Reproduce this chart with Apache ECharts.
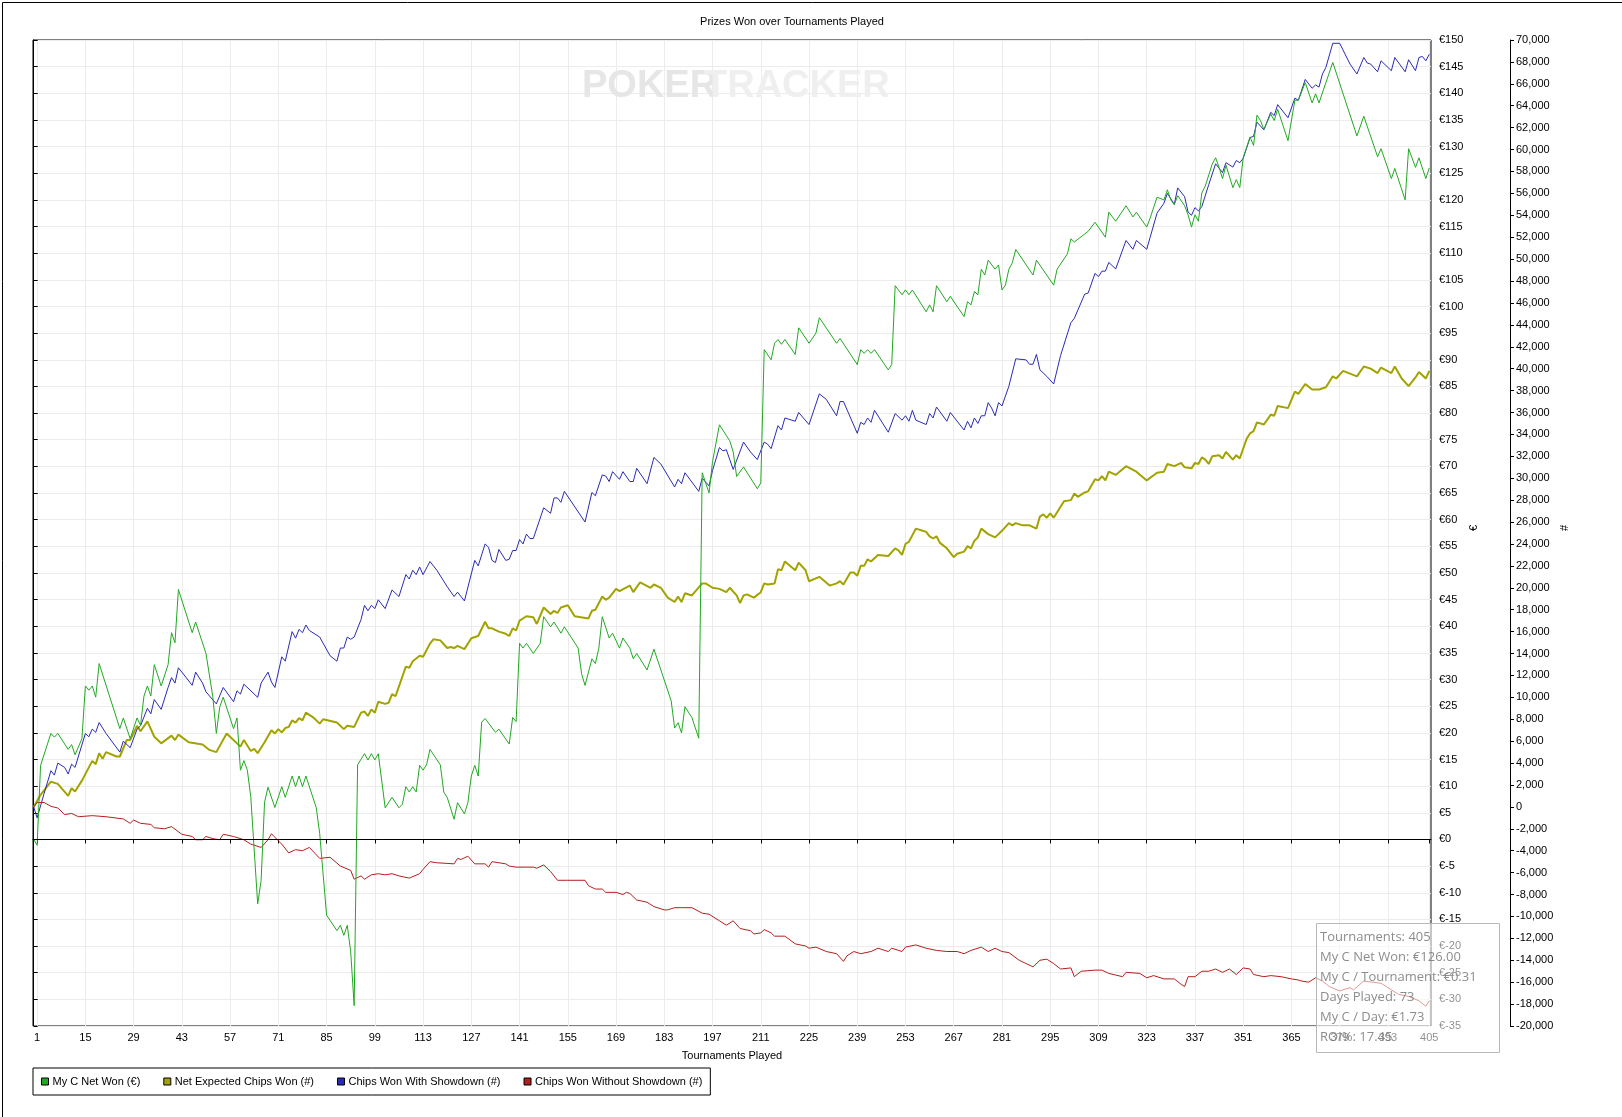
<!DOCTYPE html>
<html>
<head>
<meta charset="utf-8">
<script src="https://cdn.jsdelivr.net/npm/echarts@6/dist/echarts.min.js"></script>
<style>
html,body{margin:0;padding:0;background:#fff;}
#chart{width:1622px;height:1117px;}
</style>
</head>
<body>
<div id="chart"></div>
<script>
// ---- DATA ----
const titleText = 'Prizes Won over Tournaments Played';
const seriesNames = ['My C Net Won (€)', 'Net Expected Chips Won (#)', 'Chips Won With Showdown (#)', 'Chips Won Without Showdown (#)'];
const xTicks = [1,15,29,43,57,71,85,99,113,127,141,155,169,183,197,211,225,239,253,267,281,295,309,323,337,351,365,379,393,405];

// [tournament, €]
const netWonEUR = [[0,0],[1,-1.1],[2,13.9],[5,19.9],[6,19.2],[7,19.9],[10,16.9],[11,17.8],[12,15.9],[14,18.9],[15,28.8],[16,28],[17,28.8],[18,26.7],[19,33],[25,20.8],[26,22.8],[28,18.9],[30,22.8],[31,21.4],[32,26.9],[33,28.8],[34,26.9],[35,32.8],[37,28.8],[39,32.8],[40,38.8],[41,36.9],[42,46.9],[46,38.8],[47,40.8],[50,34.9],[52,26.7],[53,19.9],[54,24.9],[55,26.7],[58,20.8],[59,22.8],[60,13],[61,14.8],[62,13],[63,8],[65,-12.1],[66,-7.7],[67,7],[68,9.8],[70,6],[72,9.9],[73,7.9],[75,11.9],[76,9.9],[77,11.9],[78,9.9],[79,11.9],[82,5.95],[83,1.1],[85,-14.2],[88,-17.1],[89,-16.1],[90,-18],[91,-16.1],[92,-21.1],[93,-31.2],[94,14],[96,16.1],[97,14.9],[98,16.1],[99,14.9],[100,16.1],[102,5.95],[104,7.9],[106,5.95],[107,6.6],[108,9.9],[109,8.9],[110,9.9],[111,8.9],[112,13.9],[113,13],[114,14],[115,16.9],[118,14],[119,8.9],[120,7.9],[122,3.8],[123,6.9],[125,4.8],[126,6.9],[127,11.9],[128,13.9],[129,11.9],[130,22],[131,22.7],[134,20.1],[135,20.7],[138,17.9],[139,22.9],[140,22.1],[141,36.8],[142,35.9],[143,36.8],[145,34.9],[147,36.8],[148,41.8],[150,39.9],[151,40.8],[153,38.7],[154,39.9],[158,35.9],[159,31.1],[160,28.9],[162,33.9],[163,33],[164,35.9],[165,41.8],[167,37.8],[168,38.7],[170,35.9],[171,37.8],[173,35.9],[174,33.9],[175,34.9],[178,31.8],[180,35.7],[185,26],[186,20.9],[187,21.9],[188,20],[189,24.9],[191,22.9],[193,19],[194,68.8],[196,65],[197,70.9],[199,77.8],[202,74.8],[203,72.7],[204,68.1],[206,69.9],[210,65.8],[211,66.9],[212,91.9],[214,90],[215,93.1],[216,93.8],[217,92.9],[218,93.8],[221,91],[222,96],[225,93.1],[227,95],[228,97.9],[233,93.1],[234,94],[239,89.1],[240,91.9],[241,91.2],[242,91.9],[243,91.2],[244,91.9],[248,88.1],[249,89.1],[250,103.9],[252,102.2],[253,103.1],[254,102.2],[255,103.1],[259,99],[260,100.3],[261,99],[262,103.9],[265,100.9],[266,101.9],[270,98.1],[271,100.9],[272,100.3],[273,102.8],[274,102.2],[275,107],[276,105.9],[277,108.7],[279,107],[280,107.8],[281,103.1],[282,104],[283,107],[284,108.2],[285,110.7],[290,105.9],[291,108.7],[296,104],[297,107],[300,109.9],[301,112.7],[302,112.1],[306,114.1],[308,115.8],[311,113],[312,117.7],[314,116],[317,118.9],[319,116.8],[320,117.7],[323,114.9],[324,116.6],[326,120.5],[328,120],[329,121.9],[330,120],[331,119.1],[332,120.8],[334,118.9],[335,117.2],[336,114.9],[337,117.2],[338,116],[339,121.3],[340,122.6],[342,126.7],[343,127.9],[344,126.1],[345,124],[346,126.5],[348,122.3],[349,123.8],[350,122.3],[351,127.9],[353,131.8],[354,130.2],[355,135.9],[356,134.9],[357,133.2],[359,136.1],[360,134.9],[361,137],[364,131.1],[366,138.7],[367,138.7],[369,142],[371,138.2],[372,139.9],[373,138.2],[377,145.8],[384,132],[386,135.7],[390,128.1],[391,129.6],[394,124],[395,125.9],[398,120],[399,129.6],[401,126.1],[402,127.9],[404,124],[405,126]];

// [tournament, chips]
const netExpectedChips = [[0,0],[2,1100],[5,2300],[7,2100],[10,1000],[11,1700],[12,1400],[14,2400],[17,4200],[18,3900],[19,4900],[20,4400],[21,5000],[24,4600],[25,4600],[27,6100],[28,6100],[30,7400],[31,6900],[33,7800],[35,6400],[37,5800],[40,6500],[41,6100],[42,6600],[45,5900],[49,5700],[51,5200],[53,5000],[56,6700],[60,5500],[61,6100],[63,5100],[64,5300],[65,4900],[67,5900],[69,7000],[70,6700],[71,7100],[72,6800],[73,7200],[74,7300],[75,7900],[76,7700],[77,8100],[78,7900],[79,8600],[81,8200],[83,7600],[84,8000],[88,7700],[90,7100],[91,7400],[93,7300],[95,8600],[96,8700],[97,8300],[98,8900],[99,8600],[100,9600],[102,9400],[103,9500],[104,10300],[105,10100],[108,12800],[109,12700],[110,13300],[112,13800],[113,13700],[115,14900],[116,15300],[118,15200],[120,14500],[121,14600],[122,14500],[123,14700],[125,14400],[127,15400],[129,15600],[131,16900],[132,16300],[133,16300],[135,16000],[137,15800],[138,15600],[139,16300],[140,16100],[141,17000],[143,17400],[145,17300],[146,16700],[148,18200],[150,17600],[151,17900],[152,17700],[153,18200],[155,18400],[157,17400],[161,17200],[162,17900],[163,18000],[165,19200],[166,18900],[167,19100],[169,19900],[170,19700],[173,20200],[174,19600],[176,20500],[179,20000],[180,20300],[182,20000],[184,19100],[186,18700],[187,19200],[188,18700],[189,19500],[191,19300],[194,20400],[195,20400],[197,20000],[199,19900],[201,19600],[202,20000],[204,19300],[205,18600],[206,19300],[207,19400],[209,19100],[211,19600],[212,20400],[213,20300],[215,20400],[216,21700],[217,21600],[218,22400],[221,21600],[222,22300],[224,21600],[225,20600],[228,21000],[231,20200],[233,20400],[234,20600],[235,20300],[237,21400],[238,21400],[239,21100],[240,22000],[241,22000],[242,22600],[243,22400],[245,23000],[248,22900],[250,23600],[251,23400],[252,23000],[253,24000],[254,24200],[256,25400],[258,25200],[259,25100],[260,24700],[261,24500],[262,24700],[263,24100],[265,23600],[267,22800],[268,23100],[270,23300],[271,23800],[272,23600],[273,24300],[274,24600],[275,25400],[277,24900],[279,24600],[281,25200],[283,25900],[284,25700],[285,25900],[287,25700],[289,25700],[291,25400],[292,26500],[293,26700],[294,26400],[295,26800],[296,26400],[299,27900],[301,28000],[302,28600],[303,28300],[305,28700],[306,28800],[308,29900],[309,29800],[310,30200],[311,29800],[312,30600],[314,30300],[317,31100],[320,30600],[323,29800],[326,30500],[328,30600],[329,31300],[331,31100],[333,31400],[334,31000],[336,30900],[337,31400],[338,31300],[339,31900],[340,31700],[341,31300],[342,32000],[344,32100],[345,31800],[346,32400],[348,31700],[349,32100],[350,31800],[352,33600],[353,34100],[354,34300],[355,35100],[357,34900],[359,35800],[360,35700],[361,36600],[364,36400],[366,37900],[367,37700],[369,38600],[371,38100],[373,38100],[375,38300],[377,39300],[378,39100],[380,39800],[384,39300],[386,40200],[388,40000],[390,39600],[391,40100],[394,39600],[395,40200],[397,39100],[399,38400],[401,39200],[402,39700],[404,39100],[405,39800]];

const chipsWithShowdown = [[0,0],[1,-1000],[3,1200],[5,3300],[6,2900],[7,4000],[9,3600],[10,3000],[11,3900],[12,3600],[15,6700],[16,6400],[17,7100],[18,6800],[19,7700],[21,6700],[25,5000],[26,6000],[28,5400],[30,7100],[31,7400],[33,9000],[34,8500],[35,9800],[37,8900],[39,10900],[40,11800],[41,11300],[42,12700],[46,11100],[47,12300],[49,11300],[50,10500],[53,9400],[55,10900],[58,9600],[59,10600],[60,10300],[61,11200],[65,10000],[66,11300],[68,12300],[69,11400],[70,10900],[72,13700],[73,13300],[75,16000],[76,15400],[77,16200],[78,15900],[79,16600],[80,16100],[83,15500],[86,13800],[88,13300],[89,14500],[90,14500],[91,15500],[92,15300],[93,15500],[95,17100],[96,18400],[97,17900],[98,18400],[99,18100],[100,18900],[102,18100],[104,19800],[106,19200],[108,21200],[109,20800],[110,21600],[111,21200],[112,21900],[113,21200],[115,22400],[117,21600],[120,20100],[122,19200],[123,19600],[125,18800],[128,22500],[129,22000],[131,24000],[132,23700],[133,22500],[134,22300],[135,23500],[137,22500],[138,22600],[139,23400],[140,23400],[141,24400],[142,24000],[143,24900],[144,24500],[145,24500],[148,27300],[150,26800],[151,28200],[152,28200],[153,27800],[154,28800],[160,26000],[162,28700],[163,28400],[165,30300],[166,30200],[167,29700],[168,30600],[170,29900],[171,30600],[173,29700],[174,29700],[175,30900],[178,29500],[180,31900],[182,31300],[186,29200],[187,29900],[188,29500],[189,30500],[193,28800],[194,30000],[196,29300],[197,30700],[199,32800],[200,32500],[201,32600],[203,30800],[206,33300],[208,32400],[210,31700],[212,33300],[213,33100],[214,32700],[216,34800],[217,34400],[218,35500],[221,35200],[222,36000],[225,34900],[228,37700],[230,37200],[233,35700],[234,37000],[235,37000],[239,34100],[240,35100],[241,34900],[242,35500],[243,35100],[244,36200],[248,34200],[250,35900],[252,35300],[253,35700],[254,35200],[255,36200],[256,35300],[259,34900],[260,35900],[261,35500],[262,36500],[265,35200],[266,36000],[270,34400],[271,35200],[272,34600],[273,35500],[274,35000],[275,35700],[276,35700],[277,36900],[278,36400],[279,35700],[280,36900],[281,36600],[283,38400],[285,40900],[288,40800],[289,40400],[290,40400],[291,41300],[292,39900],[294,39300],[296,38600],[298,41200],[301,44200],[302,44600],[305,46800],[306,46900],[308,48700],[309,48400],[310,48900],[311,48900],[312,49700],[314,49100],[317,51700],[319,50900],[320,51700],[323,50900],[324,52000],[326,54200],[328,55100],[329,56000],[331,55000],[332,56500],[334,55700],[335,54300],[336,54000],[337,54700],[338,54400],[339,54800],[341,56800],[343,58700],[345,57900],[346,58800],[348,58400],[349,59000],[350,58800],[351,59200],[353,61100],[354,61200],[355,62500],[357,61800],[359,63400],[360,63100],[361,64100],[364,62900],[366,64700],[367,64500],[369,66400],[371,65600],[372,65900],[373,65700],[374,66900],[375,67500],[377,69700],[379,69700],[382,67800],[384,66900],[386,68400],[387,67900],[388,67800],[390,67100],[391,68100],[394,67200],[395,68400],[398,67100],[399,68200],[401,67200],[402,68400],[403,68500],[404,68100],[405,68700]];

const chipsWithoutShowdown = [[0,0],[1,400],[3,400],[5,50],[7,-100],[9,-700],[11,-600],[13,-900],[17,-800],[21,-900],[26,-1100],[28,-1500],[29,-1200],[31,-1500],[34,-1600],[35,-1900],[38,-2000],[40,-1800],[43,-2500],[46,-2700],[47,-3000],[49,-3000],[50,-2700],[52,-2900],[54,-3000],[55,-2500],[58,-2700],[61,-3000],[63,-3400],[66,-3700],[68,-3000],[69,-2450],[71,-3100],[72,-3400],[74,-4200],[76,-3900],[78,-4000],[80,-3700],[83,-4700],[86,-4600],[89,-5400],[92,-5800],[93,-6600],[95,-6300],[96,-6600],[98,-6200],[100,-6100],[102,-6200],[104,-6100],[106,-6300],[109,-6500],[112,-6100],[113,-5700],[115,-5000],[117,-5100],[122,-5200],[123,-4700],[124,-4800],[126,-4500],[128,-5200],[131,-5200],[132,-5500],[133,-5000],[137,-5200],[138,-5400],[140,-5500],[143,-5500],[145,-5500],[146,-5600],[148,-5300],[150,-5900],[152,-6700],[155,-6700],[160,-6700],[161,-7200],[163,-7500],[165,-7500],[166,-7800],[169,-7800],[171,-8000],[172,-7800],[173,-7900],[175,-8500],[178,-8700],[180,-9100],[183,-9400],[184,-9400],[186,-9200],[188,-9200],[191,-9200],[194,-9700],[196,-9800],[199,-10400],[201,-10800],[203,-10400],[205,-11100],[208,-11300],[209,-11600],[211,-11500],[212,-11200],[214,-11500],[215,-11800],[218,-11800],[221,-12500],[224,-12700],[225,-12900],[227,-12800],[230,-13200],[233,-13400],[235,-14100],[236,-13600],[238,-13200],[240,-13400],[243,-13200],[245,-12900],[248,-13200],[249,-12900],[252,-13200],[253,-12800],[256,-12600],[259,-12900],[262,-13100],[265,-13200],[268,-13200],[270,-13400],[272,-13100],[275,-12800],[277,-13200],[279,-12900],[281,-13200],[283,-13300],[286,-14000],[288,-14300],[290,-14600],[292,-14000],[294,-13900],[296,-14300],[298,-14800],[301,-14700],[302,-15500],[304,-15000],[308,-14900],[310,-14900],[312,-15200],[316,-15500],[317,-15100],[321,-15200],[323,-15600],[325,-15400],[328,-15700],[331,-15700],[333,-16200],[334,-16400],[335,-15500],[337,-15500],[339,-15000],[341,-15000],[343,-14800],[345,-15100],[347,-14800],[349,-15300],[350,-15000],[351,-14700],[353,-14800],[354,-15300],[357,-15500],[359,-15400],[362,-15500],[365,-15700],[367,-15800],[368,-15900],[370,-16000],[372,-15600],[374,-15900],[376,-16400],[379,-16800],[382,-16500],[383,-16700],[386,-15900],[391,-16100],[393,-16500],[396,-17100],[399,-17300],[402,-17700],[404,-18200],[405,-17700]];

const summaryLines = ['Tournaments: 405', 'My C Net Won: €126.00', 'My C / Tournament: €0.31', 'Days Played: 73', 'My C / Day: €1.73', 'ROI%: 17.45'];

// ---- CHART ----
const colors = ['#22a822', '#a3a300', '#2a2ab4', '#b41e1e'];
const FONT = '"Liberation Sans", Arial, sans-serif';
const chart = echarts.init(document.getElementById('chart'), null, {renderer: 'canvas'});

const summaryTexts = summaryLines.map((s, i) => ({
  type: 'text', left: 1320, top: 931 + i * 20, z: 101,
  style: {text: s, fill: 'rgba(120,120,120,0.85)', font: '13px "Open Sans", sans-serif'}
}));

const option = {
  animation: false,
  color: colors,
  textStyle: {fontFamily: FONT},
  title: {
    text: titleText, left: 792, top: 16, textAlign: 'center', padding: 0,
    textStyle: {fontSize: 11, fontWeight: 'normal', color: '#000', fontFamily: FONT}
  },
  grid: {left: 33, top: 40, width: 1398, height: 986, show: true, borderColor: '#000', borderWidth: 1, backgroundColor: 'transparent'},
  legend: {
    left: 33, top: 1068, orient: 'horizontal',
    backgroundColor: '#fff', borderColor: '#000', borderWidth: 1,
    padding: [8, 8, 8, 8], itemGap: 23, itemWidth: 7, itemHeight: 7,
    icon: 'rect',
    itemStyle: {borderColor: '#000', borderWidth: 1},
    textStyle: {fontSize: 11, color: '#000', fontFamily: FONT, padding: [0, 0, 0, -1]},
    data: seriesNames
  },
  xAxis: {
    type: 'value', min: -0.2, max: 405.5,
    name: 'Tournaments Played', nameLocation: 'middle', nameGap: 24,
    nameTextStyle: {fontSize: 11, color: '#000', fontFamily: FONT},
    axisLine: {show: true, lineStyle: {color: '#000', width: 1}},
    axisTick: {show: true, length: 4, customValues: xTicks, lineStyle: {color: '#000'}},
    axisLabel: {customValues: xTicks, fontSize: 11, color: '#000', margin: 6, fontFamily: FONT},
    splitLine: {show: true, lineStyle: {color: '#ececec', width: 1}}
  },
  yAxis: [
    {
      type: 'value', position: 'right', min: -35, max: 150, interval: 5,
      axisLine: {show: true, lineStyle: {color: '#000'}},
      axisTick: {show: true, length: 4, lineStyle: {color: '#000'}},
      axisLabel: {formatter: v => '€' + v, fontSize: 11, color: '#000', margin: 8, fontFamily: FONT},
      splitLine: {show: true, lineStyle: {color: '#ececec', width: 1}}
    },
    {
      type: 'value', position: 'right', offset: 79, min: -20000, max: 70000, interval: 2000,
      axisLine: {show: true, lineStyle: {color: '#000'}},
      axisTick: {show: true, length: 4, lineStyle: {color: '#000'}},
      axisLabel: {fontSize: 11, color: '#000', margin: 6, fontFamily: FONT},
      splitLine: {show: false}
    }
  ],
  series: [
    {
      name: seriesNames[0], type: 'line', yAxisIndex: 0, data: netWonEUR, showSymbol: false, z: 4,
      lineStyle: {width: 1, color: colors[0]}, itemStyle: {color: colors[0]},
      markLine: {silent: true, symbol: 'none', label: {show: false},
        lineStyle: {color: '#000', width: 1, type: 'solid'}, data: [{yAxis: 0}]}
    },
    {
      name: seriesNames[1], type: 'line', yAxisIndex: 1, data: netExpectedChips, showSymbol: false, z: 3,
      lineStyle: {width: 2, color: colors[1]}, itemStyle: {color: colors[1]}
    },
    {
      name: seriesNames[2], type: 'line', yAxisIndex: 1, data: chipsWithShowdown, showSymbol: false, z: 3,
      lineStyle: {width: 1, color: colors[2]}, itemStyle: {color: colors[2]}
    },
    {
      name: seriesNames[3], type: 'line', yAxisIndex: 1, data: chipsWithoutShowdown, showSymbol: false, z: 3,
      lineStyle: {width: 1, color: colors[3]}, itemStyle: {color: colors[3]}
    }
  ],
  graphic: [
    {type: 'rect', left: 0, top: 0, z: 0, silent: true,
      shape: {x: 0.5, y: 0.5, width: 1621, height: 1116},
      style: {fill: 'none', stroke: '#000', lineWidth: 1}},
    {type: 'text', left: 582, top: 68, z: 1, silent: true,
      style: {text: 'POKER', fill: '#e6e6e6', font: 'bold 38px "Liberation Sans", Arial, sans-serif'}},
    {type: 'text', left: 704, top: 68, z: 1, silent: true,
      style: {text: 'TRACKER', fill: '#efefef', font: 'bold 38px "Liberation Sans", Arial, sans-serif'}},
    {type: 'text', x: 1474, y: 528, rotation: Math.PI / 2, z: 5, silent: true,
      style: {text: '€', fill: '#000', font: '11px "Liberation Sans", Arial, sans-serif', align: 'center', verticalAlign: 'middle'}},
    {type: 'text', x: 1565, y: 528, rotation: Math.PI / 2, z: 5, silent: true,
      style: {text: '#', fill: '#000', font: '11px "Liberation Sans", Arial, sans-serif', align: 'center', verticalAlign: 'middle'}},
    {type: 'rect', left: 1316, top: 923, z: 100, silent: true,
      shape: {x: 0, y: 0, width: 183, height: 129},
      style: {fill: 'rgba(255,255,255,0.55)', stroke: '#b8b8b8', lineWidth: 1}}
  ].concat(summaryTexts)
};
chart.setOption(option);
</script>
</body>
</html>
